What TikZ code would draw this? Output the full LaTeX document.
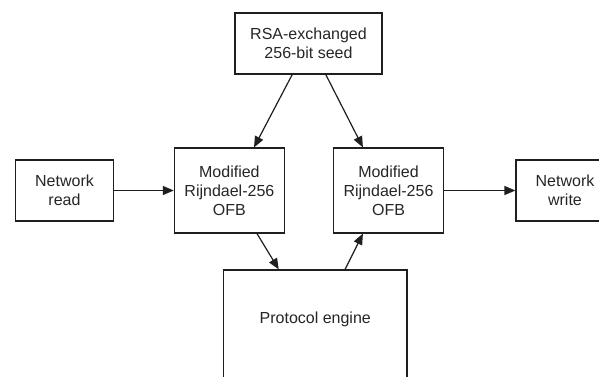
\documentclass[tikz,border=0pt]{standalone}
\usepackage{fontspec}
\setmainfont{Liberation Sans}
\usetikzlibrary{arrows.meta}

\begin{document}
\begin{tikzpicture}[x=1pt,y=-1pt,
  box/.style={draw=black!88, line width=1.2pt, rectangle, align=center,
              font=\fontsize{16}{19}\selectfont, text=black!85, inner sep=0pt},
  flow/.style={draw=black!88, line width=1.2pt,
               -{Triangle[length=11pt,width=9pt]}}]
  \useasboundingbox (0,0) rectangle (599,376);
  \fill[white] (0,0) rectangle (599,376);
  \clip (0,0) rectangle (599,376);

  % key source
  \node[box, minimum width=147pt, minimum height=61pt] (seed) at (308.5,43.5)
    {RSA-exchanged\\256-bit seed};

  % I/O ends
  \node[box, minimum width=98pt, minimum height=61pt] (read) at (64.5,190.5)
    {Network\\read};
  \node[box, minimum width=98pt, minimum height=61pt] (write) at (565,190.5)
    {Network\\write};

  % the two cipher stages
  \node[box, minimum width=110pt, minimum height=85pt] (encL) at (229.4,190.5)
    {Modified\\Rijndael-256\\OFB};
  \node[box, minimum width=110pt, minimum height=85pt] (encR) at (388.5,190.5)
    {Modified\\Rijndael-256\\OFB};

  % engine, running off the bottom edge
  \node[box, minimum width=183.5pt, minimum height=110pt, text depth=14pt]
    (engine) at (315.25,325) {Protocol engine};

  % connectors
  \draw[flow] ([xshift=-16.3pt]seed.south) -- ([xshift=24.6pt]encL.north);
  \draw[flow] ([xshift=17.3pt]seed.south) -- ([xshift=-25.6pt]encR.north);
  \draw[flow] (read.east) -- (encL.west);
  \draw[flow] (encR.east) -- (write.west);
  \draw[flow] ([xshift=27.6pt]encL.south) -- ([xshift=-36.5pt]engine.north);
  \draw[flow] ([xshift=29.75pt]engine.north) -- ([xshift=-25.6pt]encR.south);
\end{tikzpicture}
\end{document}
